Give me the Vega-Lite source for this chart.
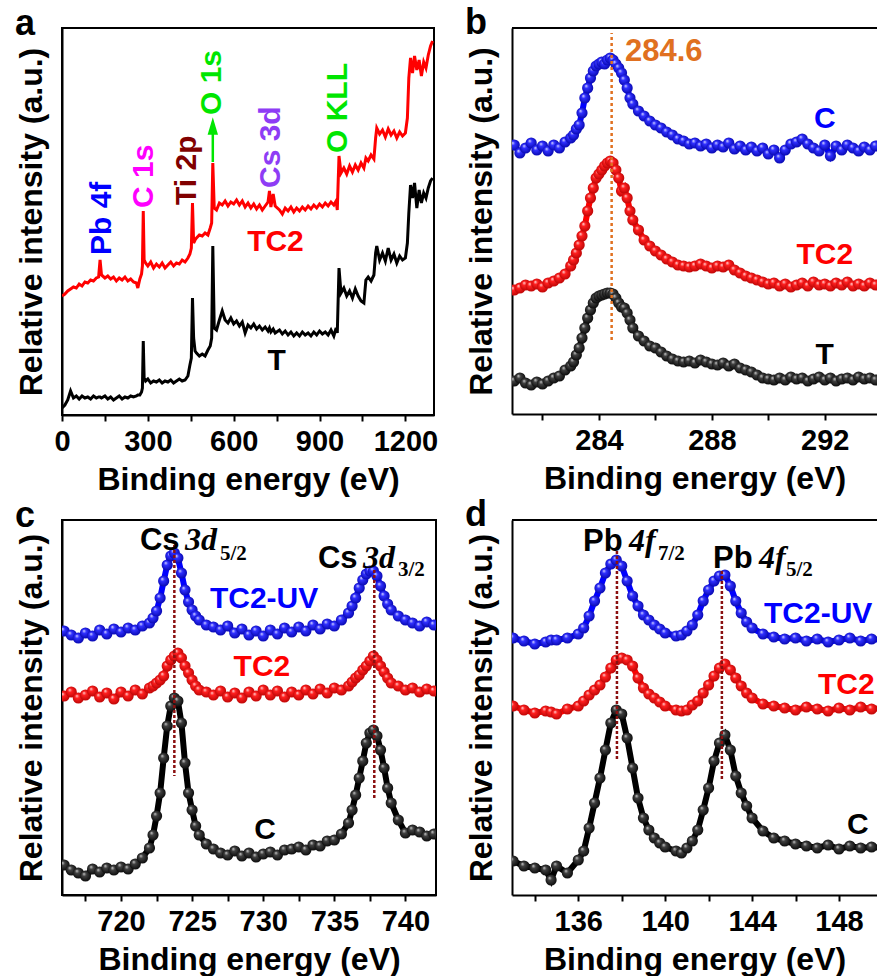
{
"$schema":"https://vega.github.io/schema/vega-lite/v6.json",
"background":"#ffffff",
"padding":{"left":14,"top":5,"right":0,"bottom":0},
"columns":2,
"spacing":{"row":105,"column":76},
"bounds":"flush",
"resolve":{"scale":{"x":"independent","y":"independent","color":"independent"}},
"config":{
 "font":"Liberation Sans",
 "view":{"stroke":"#000","strokeWidth":2},
 "axis":{"domainColor":"#000","domainWidth":2,"tickColor":"#000","tickWidth":2,"tickSize":6,"labelFont":"Liberation Sans","labelFontSize":29,"labelFontWeight":"bold","labelColor":"#000","titleFont":"Liberation Sans","titleFontSize":32,"titleFontWeight":"bold","titleColor":"#000","grid":false,"labelFlush":false,"labelOverlap":false},
 "axisX":{"labelPadding":6,"titlePadding":8,"format":"d"},
 "axisY":{"ticks":false,"labels":false,"titlePadding":14},
 "title":{"fontSize":36,"fontWeight":"bold","anchor":"start","frame":"bounds","color":"#000","font":"Liberation Sans","baseline":"alphabetic","offset":0},
 "text":{"font":"Liberation Sans","fontWeight":"bold","fontSize":30}
},
"datasets":{
"sa":[{"e":0,"TC2":119,"T":7},{"e":10,"TC2":121,"T":10},{"e":20,"TC2":124,"T":15},{"e":30,"TC2":126,"T":24},{"e":40,"TC2":128,"T":17},{"e":50,"TC2":127,"T":19},{"e":60,"TC2":131,"T":16},{"e":70,"TC2":129,"T":19},{"e":80,"TC2":133,"T":17},{"e":90,"TC2":132,"T":18},{"e":100,"TC2":135,"T":16},{"e":110,"TC2":134,"T":19},{"e":120,"TC2":137,"T":17},{"e":128,"TC2":138,"T":18},{"e":133,"TC2":155,"T":18},{"e":138,"TC2":140,"T":17},{"e":150,"TC2":137,"T":19},{"e":160,"TC2":139,"T":16},{"e":170,"TC2":136,"T":18},{"e":180,"TC2":138,"T":15},{"e":190,"TC2":134,"T":17},{"e":200,"TC2":137,"T":19},{"e":210,"TC2":135,"T":16},{"e":220,"TC2":138,"T":18},{"e":230,"TC2":134,"T":17},{"e":240,"TC2":136,"T":19},{"e":250,"TC2":133,"T":18},{"e":260,"TC2":132,"T":19},{"e":265,"TC2":127,"T":20},{"e":272,"TC2":136,"T":20},{"e":278,"TC2":141,"T":23},{"e":281,"TC2":149,"T":27},{"e":284,"TC2":204,"T":74},{"e":287,"TC2":155,"T":37},{"e":292,"TC2":152,"T":34},{"e":300,"TC2":149,"T":36},{"e":310,"TC2":153,"T":32},{"e":320,"TC2":147,"T":34},{"e":330,"TC2":151,"T":33},{"e":340,"TC2":148,"T":35},{"e":350,"TC2":152,"T":32},{"e":360,"TC2":147,"T":34},{"e":370,"TC2":150,"T":33},{"e":380,"TC2":153,"T":35},{"e":390,"TC2":149,"T":32},{"e":400,"TC2":152,"T":34},{"e":410,"TC2":151,"T":36},{"e":420,"TC2":155,"T":34},{"e":430,"TC2":153,"T":35},{"e":440,"TC2":157,"T":39},{"e":447,"TC2":161,"T":50},{"e":452,"TC2":167,"T":57},{"e":456,"TC2":212,"T":117},{"e":460,"TC2":172,"T":77},{"e":465,"TC2":175,"T":64},{"e":470,"TC2":177,"T":62},{"e":480,"TC2":180,"T":59},{"e":490,"TC2":179,"T":61},{"e":500,"TC2":182,"T":59},{"e":510,"TC2":180,"T":65},{"e":518,"TC2":187,"T":69},{"e":523,"TC2":192,"T":77},{"e":527,"TC2":252,"T":169},{"e":532,"TC2":207,"T":87},{"e":540,"TC2":205,"T":85},{"e":550,"TC2":212,"T":95},{"e":560,"TC2":210,"T":104},{"e":570,"TC2":214,"T":95},{"e":580,"TC2":209,"T":92},{"e":590,"TC2":213,"T":97},{"e":600,"TC2":211,"T":91},{"e":610,"TC2":215,"T":94},{"e":620,"TC2":210,"T":89},{"e":630,"TC2":214,"T":93},{"e":640,"TC2":208,"T":82},{"e":650,"TC2":212,"T":90},{"e":660,"TC2":207,"T":87},{"e":670,"TC2":211,"T":91},{"e":680,"TC2":206,"T":86},{"e":690,"TC2":210,"T":89},{"e":700,"TC2":205,"T":85},{"e":710,"TC2":209,"T":88},{"e":720,"TC2":213,"T":84},{"e":725,"TC2":224,"T":87},{"e":730,"TC2":208,"T":83},{"e":738,"TC2":221,"T":86},{"e":745,"TC2":209,"T":82},{"e":760,"TC2":205,"T":85},{"e":770,"TC2":201,"T":81},{"e":780,"TC2":207,"T":84},{"e":790,"TC2":204,"T":80},{"e":800,"TC2":208,"T":83},{"e":810,"TC2":203,"T":79},{"e":820,"TC2":207,"T":82},{"e":830,"TC2":204,"T":79},{"e":840,"TC2":208,"T":83},{"e":850,"TC2":205,"T":80},{"e":860,"TC2":209,"T":82},{"e":870,"TC2":206,"T":79},{"e":880,"TC2":210,"T":83},{"e":890,"TC2":207,"T":80},{"e":900,"TC2":211,"T":84},{"e":910,"TC2":208,"T":81},{"e":920,"TC2":212,"T":83},{"e":930,"TC2":209,"T":80},{"e":940,"TC2":213,"T":85},{"e":950,"TC2":210,"T":79},{"e":958,"TC2":214,"T":87},{"e":962,"TC2":205,"T":82},{"e":968,"TC2":259,"T":147},{"e":975,"TC2":242,"T":122},{"e":985,"TC2":247,"T":127},{"e":995,"TC2":241,"T":119},{"e":1005,"TC2":249,"T":124},{"e":1015,"TC2":243,"T":117},{"e":1025,"TC2":250,"T":126},{"e":1035,"TC2":245,"T":119},{"e":1045,"TC2":252,"T":114},{"e":1055,"TC2":247,"T":112},{"e":1062,"TC2":257,"T":135},{"e":1070,"TC2":254,"T":138},{"e":1080,"TC2":260,"T":134},{"e":1090,"TC2":256,"T":140},{"e":1096,"TC2":277,"T":162},{"e":1100,"TC2":287,"T":169},{"e":1110,"TC2":281,"T":155},{"e":1120,"TC2":285,"T":162},{"e":1130,"TC2":278,"T":154},{"e":1140,"TC2":286,"T":167},{"e":1150,"TC2":280,"T":155},{"e":1160,"TC2":284,"T":161},{"e":1170,"TC2":277,"T":152},{"e":1180,"TC2":283,"T":159},{"e":1190,"TC2":279,"T":155},{"e":1200,"TC2":282,"T":157},{"e":1207,"TC2":297,"T":172},{"e":1212,"TC2":337,"T":202},{"e":1218,"TC2":357,"T":230},{"e":1225,"TC2":342,"T":217},{"e":1232,"TC2":359,"T":232},{"e":1240,"TC2":345,"T":207},{"e":1248,"TC2":355,"T":225},{"e":1256,"TC2":339,"T":212},{"e":1264,"TC2":353,"T":222},{"e":1272,"TC2":347,"T":217},{"e":1280,"TC2":360,"T":227},{"e":1288,"TC2":369,"T":234},{"e":1295,"TC2":374,"T":237}],
"la":[{"e":139.5,"v":160,"txt":"Pb 4f","k":"Pb"},{"e":286,"v":207,"txt":"C 1s","k":"C"},{"e":437.7,"v":210,"txt":"Ti 2p","k":"Ti"},{"e":525,"v":300,"txt":"O 1s","k":"O"},{"e":730.7,"v":227,"txt":"Cs 3d","k":"Cs"},{"e":964,"v":262,"txt":"O KLL","k":"O"}],
"sb":[{"e":281.0,"C":269,"TC2":124,"T":33},{"e":281.2,"C":261,"TC2":126,"T":36},{"e":281.4,"C":266,"TC2":129,"T":31},{"e":281.6,"C":271,"TC2":128,"T":29},{"e":281.8,"C":264,"TC2":130,"T":32},{"e":282.0,"C":268,"TC2":127,"T":30},{"e":282.2,"C":263,"TC2":131,"T":33},{"e":282.4,"C":269,"TC2":133,"T":36},{"e":282.6,"C":266,"TC2":136,"T":38},{"e":282.8,"C":272,"TC2":140,"T":44},{"e":283.0,"C":276,"TC2":148,"T":48},{"e":283.1,"C":279,"TC2":154,"T":52},{"e":283.2,"C":285,"TC2":161,"T":59},{"e":283.3,"C":289,"TC2":169,"T":66},{"e":283.4,"C":301,"TC2":178,"T":76},{"e":283.5,"C":316,"TC2":188,"T":86},{"e":283.6,"C":326,"TC2":203,"T":96},{"e":283.7,"C":336,"TC2":216,"T":104},{"e":283.8,"C":343,"TC2":226,"T":111},{"e":283.9,"C":348,"TC2":236,"T":116},{"e":284.0,"C":350,"TC2":240,"T":118},{"e":284.1,"C":352,"TC2":244,"T":119},{"e":284.2,"C":350,"TC2":248,"T":120},{"e":284.3,"C":354,"TC2":251,"T":121},{"e":284.4,"C":356,"TC2":253,"T":121},{"e":284.5,"C":354,"TC2":251,"T":120},{"e":284.6,"C":350,"TC2":244,"T":116},{"e":284.7,"C":346,"TC2":236,"T":111},{"e":284.8,"C":341,"TC2":223,"T":107},{"e":284.9,"C":334,"TC2":226,"T":106},{"e":285.0,"C":326,"TC2":216,"T":101},{"e":285.1,"C":316,"TC2":203,"T":94},{"e":285.2,"C":310,"TC2":194,"T":86},{"e":285.4,"C":303,"TC2":184,"T":78},{"e":285.6,"C":298,"TC2":174,"T":73},{"e":285.8,"C":293,"TC2":168,"T":68},{"e":286.0,"C":289,"TC2":163,"T":66},{"e":286.2,"C":286,"TC2":159,"T":62},{"e":286.4,"C":282,"TC2":155,"T":58},{"e":286.6,"C":279,"TC2":152,"T":55},{"e":286.8,"C":275,"TC2":149,"T":53},{"e":287.0,"C":273,"TC2":148,"T":52},{"e":287.2,"C":270,"TC2":147,"T":53},{"e":287.4,"C":271,"TC2":148,"T":51},{"e":287.6,"C":268,"TC2":150,"T":54},{"e":287.8,"C":270,"TC2":148,"T":52},{"e":288.0,"C":266,"TC2":146,"T":50},{"e":288.2,"C":269,"TC2":148,"T":49},{"e":288.4,"C":267,"TC2":147,"T":51},{"e":288.6,"C":271,"TC2":149,"T":48},{"e":288.8,"C":265,"TC2":144,"T":50},{"e":289.0,"C":268,"TC2":141,"T":46},{"e":289.2,"C":264,"TC2":138,"T":44},{"e":289.4,"C":267,"TC2":136,"T":42},{"e":289.6,"C":263,"TC2":134,"T":39},{"e":289.8,"C":266,"TC2":132,"T":36},{"e":290.0,"C":260,"TC2":130,"T":35},{"e":290.2,"C":264,"TC2":131,"T":34},{"e":290.4,"C":256,"TC2":128,"T":36},{"e":290.6,"C":264,"TC2":130,"T":34},{"e":290.8,"C":270,"TC2":127,"T":37},{"e":291.0,"C":272,"TC2":129,"T":35},{"e":291.2,"C":275,"TC2":131,"T":36},{"e":291.4,"C":270,"TC2":128,"T":33},{"e":291.6,"C":266,"TC2":132,"T":35},{"e":291.8,"C":263,"TC2":129,"T":37},{"e":292.0,"C":269,"TC2":130,"T":34},{"e":292.2,"C":258,"TC2":128,"T":36},{"e":292.4,"C":268,"TC2":131,"T":33},{"e":292.6,"C":264,"TC2":129,"T":35},{"e":292.8,"C":269,"TC2":132,"T":36},{"e":293.0,"C":266,"TC2":128,"T":34},{"e":293.2,"C":263,"TC2":130,"T":37},{"e":293.4,"C":267,"TC2":128,"T":35},{"e":293.6,"C":264,"TC2":131,"T":36},{"e":293.8,"C":268,"TC2":129,"T":34}],
"sc":[{"e":716.0,"UV":264,"TC2":199,"C":30},{"e":716.5,"UV":260,"TC2":203,"C":25},{"e":717.0,"UV":257,"TC2":197,"C":22},{"e":717.5,"UV":262,"TC2":200,"C":19},{"e":718.0,"UV":259,"TC2":204,"C":26},{"e":718.5,"UV":265,"TC2":198,"C":23},{"e":719.0,"UV":261,"TC2":202,"C":27},{"e":719.5,"UV":266,"TC2":196,"C":25},{"e":720.0,"UV":263,"TC2":203,"C":28},{"e":720.5,"UV":267,"TC2":199,"C":26},{"e":721.0,"UV":265,"TC2":205,"C":31},{"e":721.5,"UV":269,"TC2":201,"C":37},{"e":722.0,"UV":272,"TC2":207,"C":47},{"e":722.25,"UV":277,"TC2":209,"C":60},{"e":722.5,"UV":284,"TC2":212,"C":79},{"e":722.75,"UV":297,"TC2":215,"C":102},{"e":723.0,"UV":314,"TC2":219,"C":137},{"e":723.25,"UV":330,"TC2":229,"C":169},{"e":723.5,"UV":339,"TC2":235,"C":189},{"e":723.75,"UV":342,"TC2":239,"C":197},{"e":724.0,"UV":337,"TC2":242,"C":194},{"e":724.25,"UV":322,"TC2":237,"C":172},{"e":724.5,"UV":305,"TC2":229,"C":132},{"e":724.75,"UV":293,"TC2":222,"C":102},{"e":725.0,"UV":285,"TC2":215,"C":85},{"e":725.25,"UV":279,"TC2":209,"C":69},{"e":725.5,"UV":275,"TC2":205,"C":60},{"e":726.0,"UV":270,"TC2":203,"C":51},{"e":726.5,"UV":268,"TC2":200,"C":46},{"e":727.0,"UV":265,"TC2":204,"C":42},{"e":727.5,"UV":269,"TC2":198,"C":40},{"e":728.0,"UV":262,"TC2":202,"C":44},{"e":728.5,"UV":266,"TC2":197,"C":39},{"e":729.0,"UV":260,"TC2":203,"C":42},{"e":729.5,"UV":264,"TC2":199,"C":38},{"e":730.0,"UV":259,"TC2":205,"C":41},{"e":730.5,"UV":265,"TC2":200,"C":43},{"e":731.0,"UV":261,"TC2":204,"C":40},{"e":731.5,"UV":267,"TC2":198,"C":45},{"e":732.0,"UV":263,"TC2":203,"C":46},{"e":732.5,"UV":268,"TC2":200,"C":48},{"e":733.0,"UV":264,"TC2":205,"C":45},{"e":733.5,"UV":270,"TC2":201,"C":50},{"e":734.0,"UV":266,"TC2":206,"C":49},{"e":734.5,"UV":271,"TC2":202,"C":54},{"e":735.0,"UV":269,"TC2":207,"C":55},{"e":735.5,"UV":275,"TC2":205,"C":61},{"e":736.0,"UV":282,"TC2":209,"C":72},{"e":736.25,"UV":289,"TC2":213,"C":85},{"e":736.5,"UV":297,"TC2":217,"C":100},{"e":736.75,"UV":307,"TC2":220,"C":117},{"e":737.0,"UV":315,"TC2":225,"C":134},{"e":737.25,"UV":321,"TC2":229,"C":152},{"e":737.5,"UV":324,"TC2":234,"C":162},{"e":737.75,"UV":324,"TC2":239,"C":165},{"e":738.0,"UV":319,"TC2":235,"C":159},{"e":738.25,"UV":309,"TC2":229,"C":145},{"e":738.5,"UV":299,"TC2":223,"C":127},{"e":738.75,"UV":291,"TC2":217,"C":107},{"e":739.0,"UV":285,"TC2":212,"C":92},{"e":739.5,"UV":279,"TC2":209,"C":75},{"e":740.0,"UV":275,"TC2":205,"C":62},{"e":740.5,"UV":272,"TC2":207,"C":65},{"e":741.0,"UV":269,"TC2":203,"C":63},{"e":741.5,"UV":273,"TC2":206,"C":59},{"e":742.0,"UV":270,"TC2":204,"C":61}],
"sd":[{"e":133.0,"UV":257,"TC2":189,"C":34},{"e":133.5,"UV":254,"TC2":185,"C":29},{"e":134.0,"UV":251,"TC2":182,"C":27},{"e":134.5,"UV":253,"TC2":184,"C":25},{"e":134.75,"UV":255,"TC2":183,"C":15},{"e":135.0,"UV":255,"TC2":181,"C":29},{"e":135.5,"UV":257,"TC2":186,"C":22},{"e":136.0,"UV":261,"TC2":189,"C":35},{"e":136.25,"UV":267,"TC2":194,"C":44},{"e":136.5,"UV":279,"TC2":200,"C":67},{"e":136.75,"UV":294,"TC2":205,"C":92},{"e":137.0,"UV":307,"TC2":210,"C":117},{"e":137.25,"UV":322,"TC2":218,"C":145},{"e":137.5,"UV":331,"TC2":227,"C":172},{"e":137.75,"UV":335,"TC2":235,"C":185},{"e":138.0,"UV":329,"TC2":237,"C":181},{"e":138.25,"UV":314,"TC2":235,"C":157},{"e":138.5,"UV":299,"TC2":229,"C":127},{"e":138.75,"UV":289,"TC2":217,"C":97},{"e":139.0,"UV":280,"TC2":207,"C":77},{"e":139.25,"UV":275,"TC2":201,"C":65},{"e":139.5,"UV":270,"TC2":197,"C":57},{"e":139.75,"UV":266,"TC2":193,"C":52},{"e":140.0,"UV":262,"TC2":189,"C":48},{"e":140.5,"UV":259,"TC2":185,"C":44},{"e":140.75,"UV":260,"TC2":184,"C":42},{"e":141.0,"UV":264,"TC2":185,"C":47},{"e":141.25,"UV":270,"TC2":190,"C":54},{"e":141.5,"UV":280,"TC2":194,"C":65},{"e":141.75,"UV":294,"TC2":202,"C":85},{"e":142.0,"UV":305,"TC2":210,"C":107},{"e":142.25,"UV":314,"TC2":219,"C":134},{"e":142.5,"UV":319,"TC2":227,"C":152},{"e":142.75,"UV":320,"TC2":231,"C":160},{"e":143.0,"UV":309,"TC2":225,"C":145},{"e":143.25,"UV":294,"TC2":217,"C":119},{"e":143.5,"UV":282,"TC2":209,"C":102},{"e":143.75,"UV":273,"TC2":202,"C":89},{"e":144.0,"UV":267,"TC2":197,"C":77},{"e":144.5,"UV":261,"TC2":191,"C":64},{"e":145.0,"UV":258,"TC2":189,"C":57},{"e":145.5,"UV":256,"TC2":187,"C":54},{"e":146.0,"UV":257,"TC2":185,"C":51},{"e":146.5,"UV":254,"TC2":188,"C":49},{"e":147.0,"UV":256,"TC2":186,"C":47},{"e":147.5,"UV":253,"TC2":184,"C":50},{"e":148.0,"UV":255,"TC2":187,"C":46},{"e":148.5,"UV":257,"TC2":185,"C":49},{"e":149.0,"UV":254,"TC2":188,"C":47},{"e":149.5,"UV":256,"TC2":186,"C":48},{"e":150.0,"UV":255,"TC2":187,"C":47}]
},
"concat":[
{
 "title":{"text":"a","dy":19},
 "width":372,"height":387,
 "resolve":{"scale":{"color":"independent"}},
 "encoding":{
  "x":{"field":"e","type":"quantitative","scale":{"domain":[0,1300],"nice":false,"zero":false},"axis":{"title":"Binding energy (eV)","values":[0,150,300,450,600,750,900,1050,1200],"labelExpr":"datum.value % 300 === 0 ? datum.label : ''"}},
  "y":{"field":"v","type":"quantitative","scale":{"domain":[0,387],"nice":false,"zero":false},"axis":{"title":"Relative intensity (a.u.)"}}
 },
 "layer":[
  {"data":{"name":"sa"},"transform":[{"fold":["TC2","T"],"as":["s","v"]}],"mark":{"type":"line","strokeWidth":3,"clip":true},"encoding":{"color":{"field":"s","type":"nominal","scale":{"domain":["TC2","T"],"range":["#ff0000","#000000"]},"legend":null}}},
  {"data":{"values":[{"e":527,"v":253,"v2":282}]},"mark":{"type":"rule","color":"#00e600","strokeWidth":2.5},"encoding":{"y2":{"field":"v2"}}},
  {"data":{"values":[{"e":527,"v":289}]},"mark":{"type":"point","shape":"M0,-1L0.6,1L-0.6,1Z","size":300,"filled":true,"color":"#00e600","opacity":1}},
  {"data":{"name":"la"},"mark":{"type":"text","angle":270,"align":"left","baseline":"middle"},"encoding":{"text":{"field":"txt"},"color":{"field":"k","type":"nominal","scale":{"domain":["Pb","C","Ti","O","Cs"],"range":["#0000ff","#ff00ff","#800000","#00e600","#8e3cf5"]},"legend":null}}},
  {"data":{"values":[{"e":746,"v":173,"s":"TC2"},{"e":750,"v":54,"s":"T"}]},"mark":{"type":"text","align":"center","baseline":"middle"},"encoding":{"text":{"field":"s"},"color":{"field":"s","type":"nominal","scale":{"domain":["TC2","T"],"range":["#ff0000","#000000"]},"legend":null}}}
 ]
},
{
 "title":{"text":"b","dy":19},
 "width":365,"height":386,
 "view":{"stroke":null},
 "encoding":{
  "x":{"field":"e","type":"quantitative","scale":{"domain":[280.92,293.85],"nice":false,"zero":false},"axis":{"title":"Binding energy (eV)","values":[282,284,286,288,290,292],"labelExpr":"datum.value % 4 === 0 ? datum.label : ''"}},
  "y":{"field":"v","type":"quantitative","scale":{"domain":[0,386],"nice":false,"zero":false},"axis":{"title":"Relative intensity (a.u.)"}}
 },
 "layer":[
  {"data":{"name":"sb"},"transform":[{"fold":["C","TC2","T"],"as":["s","v"]}],"mark":{"type":"line","strokeWidth":6,"clip":true},"encoding":{"color":{"field":"s","type":"nominal","scale":{"domain":["C","TC2","T"],"range":["#0000ff","#ff0000","#000000"]},"legend":null}}},
  {"data":{"name":"sb"},"transform":[{"fold":["C"],"as":["s","v"]}],"mark":{"type":"point","shape":"circle","filled":true,"size":125,"opacity":1,"clip":true,"color":{"gradient":"radial","x1":0.35,"y1":0.3,"r1":0,"x2":0.5,"y2":0.5,"r2":0.6,"stops":[{"offset":0,"color":"#e0e0ff"},{"offset":0.3,"color":"#3030ff"},{"offset":1,"color":"#0000a0"}]}}},
  {"data":{"name":"sb"},"transform":[{"fold":["TC2"],"as":["s","v"]}],"mark":{"type":"point","shape":"circle","filled":true,"size":125,"opacity":1,"clip":true,"color":{"gradient":"radial","x1":0.35,"y1":0.3,"r1":0,"x2":0.5,"y2":0.5,"r2":0.6,"stops":[{"offset":0,"color":"#ffe0e0"},{"offset":0.3,"color":"#ff2020"},{"offset":1,"color":"#b00000"}]}}},
  {"data":{"name":"sb"},"transform":[{"fold":["T"],"as":["s","v"]}],"mark":{"type":"point","shape":"circle","filled":true,"size":125,"opacity":1,"clip":true,"color":{"gradient":"radial","x1":0.35,"y1":0.3,"r1":0,"x2":0.5,"y2":0.5,"r2":0.6,"stops":[{"offset":0,"color":"#d0d0d0"},{"offset":0.3,"color":"#404040"},{"offset":1,"color":"#000000"}]}}},
  {"data":{"values":[{"e":280.92,"e2":293.85,"v":386}]},"mark":{"type":"rule","color":"#000","strokeWidth":2},"encoding":{"x2":{"field":"e2"}}},
  {"data":{"values":[{"e":284.45,"v":74,"v2":381}]},"mark":{"type":"rule","color":"#e07020","strokeWidth":2.5,"strokeDash":[3,3]},"encoding":{"y2":{"field":"v2"}}},
  {"data":{"values":[{"e":284.92,"v":353}]},"mark":{"type":"text","text":"284.6","align":"left","baseline":"alphabetic","color":"#e07020","fontSize":31}},
  {"data":{"values":[{"e":292,"v":295,"s":"C"},{"e":292,"v":159,"s":"TC2"},{"e":292,"v":59,"s":"T"}]},"mark":{"type":"text","align":"center","baseline":"middle","clip":true},"encoding":{"text":{"field":"s"},"color":{"field":"s","type":"nominal","scale":{"domain":["C","TC2","T"],"range":["#0000ff","#ff0000","#000000"]},"legend":null}}}
 ]
},
{
 "title":{"text":"c","dy":19},
 "width":374,"height":375,
 "encoding":{
  "x":{"field":"e","type":"quantitative","scale":{"domain":[715.85,742.15],"nice":false,"zero":false},"axis":{"title":"Binding energy (eV)","values":[717.5,720,722.5,725,727.5,730,732.5,735,737.5,740],"labelExpr":"datum.value % 5 === 0 ? datum.label : ''"}},
  "y":{"field":"v","type":"quantitative","scale":{"domain":[0,375],"nice":false,"zero":false},"axis":{"title":"Relative intensity (a.u.)"}}
 },
 "layer":[
  {"data":{"name":"sc"},"transform":[{"fold":["UV","TC2","C"],"as":["s","v"]}],"mark":{"type":"line","strokeWidth":6,"clip":true},"encoding":{"color":{"field":"s","type":"nominal","scale":{"domain":["UV","TC2","C"],"range":["#0000ff","#ff0000","#000000"]},"legend":null}}},
  {"data":{"name":"sc"},"transform":[{"fold":["UV"],"as":["s","v"]}],"mark":{"type":"point","shape":"circle","filled":true,"size":125,"opacity":1,"clip":true,"color":{"gradient":"radial","x1":0.35,"y1":0.3,"r1":0,"x2":0.5,"y2":0.5,"r2":0.6,"stops":[{"offset":0,"color":"#e0e0ff"},{"offset":0.3,"color":"#3030ff"},{"offset":1,"color":"#0000a0"}]}}},
  {"data":{"name":"sc"},"transform":[{"fold":["TC2"],"as":["s","v"]}],"mark":{"type":"point","shape":"circle","filled":true,"size":125,"opacity":1,"clip":true,"color":{"gradient":"radial","x1":0.35,"y1":0.3,"r1":0,"x2":0.5,"y2":0.5,"r2":0.6,"stops":[{"offset":0,"color":"#ffe0e0"},{"offset":0.3,"color":"#ff2020"},{"offset":1,"color":"#b00000"}]}}},
  {"data":{"name":"sc"},"transform":[{"fold":["C"],"as":["s","v"]}],"mark":{"type":"point","shape":"circle","filled":true,"size":125,"opacity":1,"clip":true,"color":{"gradient":"radial","x1":0.35,"y1":0.3,"r1":0,"x2":0.5,"y2":0.5,"r2":0.6,"stops":[{"offset":0,"color":"#d0d0d0"},{"offset":0.3,"color":"#404040"},{"offset":1,"color":"#000000"}]}}},
  {"data":{"values":[{"e":723.75,"v":350,"v2":119},{"e":737.81,"v":325,"v2":97}]},"mark":{"type":"rule","color":"#8b1010","strokeWidth":2.5,"strokeDash":[3,2]},"encoding":{"y2":{"field":"v2"}}},
  {"data":{"values":[{"e":721.33,"v":345},{"e":733.85,"v":327}]},"mark":{"type":"text","text":"Cs","align":"left","baseline":"alphabetic","color":"#000","fontSize":31}},
  {"data":{"values":[{"e":724.5,"v":345},{"e":737.02,"v":327}]},"mark":{"type":"text","text":"3d","font":"Liberation Serif","fontStyle":"italic","fontWeight":"bold","fontSize":32,"align":"left","baseline":"alphabetic","color":"#000"}},
  {"data":{"values":[{"e":726.96,"v":335,"t":"5/2"},{"e":739.48,"v":319,"t":"3/2"}]},"mark":{"type":"text","font":"Liberation Serif","fontWeight":"bold","fontSize":21,"align":"left","baseline":"alphabetic","color":"#000"},"encoding":{"text":{"field":"t"}}},
  {"data":{"values":[{"e":730.06,"v":296,"s":"UV","txt":"TC2-UV"},{"e":729.91,"v":228,"s":"TC2","txt":"TC2"},{"e":730.13,"v":65,"s":"C","txt":"C"}]},"mark":{"type":"text","align":"center","baseline":"middle"},"encoding":{"text":{"field":"txt"},"color":{"field":"s","type":"nominal","scale":{"domain":["UV","TC2","C"],"range":["#0000ff","#ff0000","#000000"]},"legend":null}}}
 ]
},
{
 "title":{"text":"d","dy":19},
 "width":365,"height":375,
 "view":{"stroke":null},
 "encoding":{
  "x":{"field":"e","type":"quantitative","scale":{"domain":[132.95,149.75],"nice":false,"zero":false},"axis":{"title":"Binding energy (eV)","values":[134,136,138,140,142,144,146,148],"labelExpr":"datum.value % 4 === 0 ? datum.label : ''"}},
  "y":{"field":"v","type":"quantitative","scale":{"domain":[0,375],"nice":false,"zero":false},"axis":{"title":"Relative intensity (a.u.)"}}
 },
 "layer":[
  {"data":{"name":"sd"},"transform":[{"fold":["UV","TC2","C"],"as":["s","v"]}],"mark":{"type":"line","strokeWidth":6,"clip":true},"encoding":{"color":{"field":"s","type":"nominal","scale":{"domain":["UV","TC2","C"],"range":["#0000ff","#ff0000","#000000"]},"legend":null}}},
  {"data":{"name":"sd"},"transform":[{"fold":["UV"],"as":["s","v"]}],"mark":{"type":"point","shape":"circle","filled":true,"size":125,"opacity":1,"clip":true,"color":{"gradient":"radial","x1":0.35,"y1":0.3,"r1":0,"x2":0.5,"y2":0.5,"r2":0.6,"stops":[{"offset":0,"color":"#e0e0ff"},{"offset":0.3,"color":"#3030ff"},{"offset":1,"color":"#0000a0"}]}}},
  {"data":{"name":"sd"},"transform":[{"fold":["TC2"],"as":["s","v"]}],"mark":{"type":"point","shape":"circle","filled":true,"size":125,"opacity":1,"clip":true,"color":{"gradient":"radial","x1":0.35,"y1":0.3,"r1":0,"x2":0.5,"y2":0.5,"r2":0.6,"stops":[{"offset":0,"color":"#ffe0e0"},{"offset":0.3,"color":"#ff2020"},{"offset":1,"color":"#b00000"}]}}},
  {"data":{"name":"sd"},"transform":[{"fold":["C"],"as":["s","v"]}],"mark":{"type":"point","shape":"circle","filled":true,"size":125,"opacity":1,"clip":true,"color":{"gradient":"radial","x1":0.35,"y1":0.3,"r1":0,"x2":0.5,"y2":0.5,"r2":0.6,"stops":[{"offset":0,"color":"#d0d0d0"},{"offset":0.3,"color":"#404040"},{"offset":1,"color":"#000000"}]}}},
  {"data":{"values":[{"e":132.95,"e2":149.75,"v":375}]},"mark":{"type":"rule","color":"#000","strokeWidth":2},"encoding":{"x2":{"field":"e2"}}},
  {"data":{"values":[{"e":137.78,"v":344,"v2":134},{"e":142.61,"v":324,"v2":114}]},"mark":{"type":"rule","color":"#8b1010","strokeWidth":2.5,"strokeDash":[3,2]},"encoding":{"y2":{"field":"v2"}}},
  {"data":{"values":[{"e":136.22,"v":344},{"e":142.2,"v":327}]},"mark":{"type":"text","text":"Pb","align":"left","baseline":"alphabetic","color":"#000","fontSize":31}},
  {"data":{"values":[{"e":138.33,"v":344},{"e":144.32,"v":327}]},"mark":{"type":"text","text":"4f","font":"Liberation Serif","fontStyle":"italic","fontWeight":"bold","fontSize":32,"align":"left","baseline":"alphabetic","color":"#000"}},
  {"data":{"values":[{"e":139.67,"v":335,"t":"7/2"},{"e":145.56,"v":319,"t":"5/2"}]},"mark":{"type":"text","font":"Liberation Serif","fontWeight":"bold","fontSize":21,"align":"left","baseline":"alphabetic","color":"#000"},"encoding":{"text":{"field":"t"}}},
  {"data":{"values":[{"e":144.55,"v":281,"s":"UV","txt":"TC2-UV"},{"e":147.03,"v":210,"s":"TC2","txt":"TC2"}]},"mark":{"type":"text","align":"left","baseline":"middle","clip":true},"encoding":{"text":{"field":"txt"},"color":{"field":"s","type":"nominal","scale":{"domain":["UV","TC2","C"],"range":["#0000ff","#ff0000","#000000"]},"legend":null}}},
  {"data":{"values":[{"e":148.87,"v":70,"s":"C","txt":"C"}]},"mark":{"type":"text","align":"center","baseline":"middle","clip":true},"encoding":{"text":{"field":"txt"},"color":{"field":"s","type":"nominal","scale":{"domain":["UV","TC2","C"],"range":["#0000ff","#ff0000","#000000"]},"legend":null}}}
 ]
}
]
}
